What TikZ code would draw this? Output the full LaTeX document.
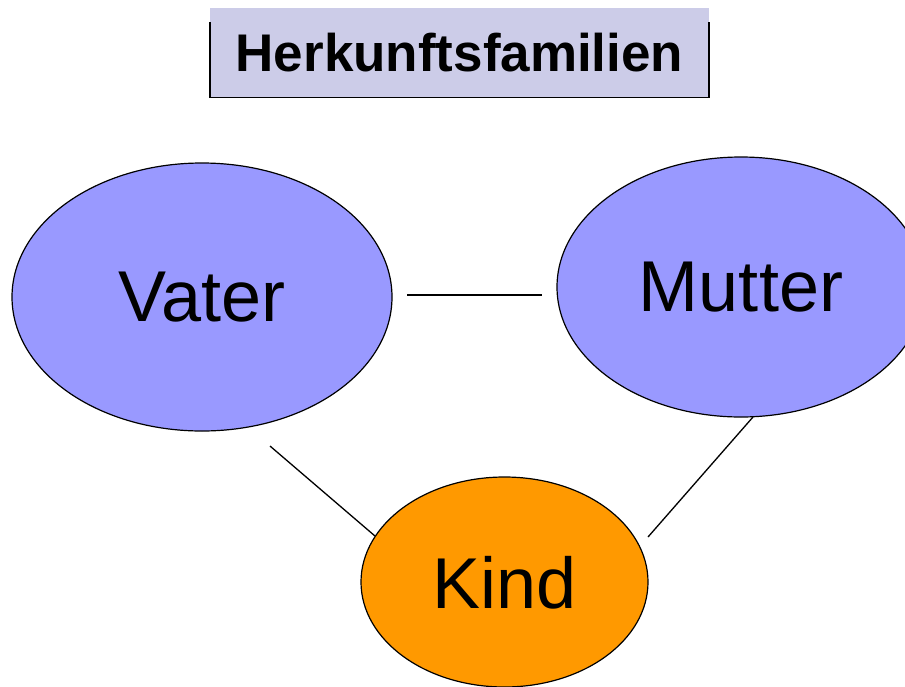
\documentclass[tikz,border=0pt]{standalone}
\usepackage{fontspec}
\setmainfont{Liberation Sans}
\usetikzlibrary{shapes.geometric}
\definecolor{titlefill}{HTML}{CCCCE8}
\definecolor{parentfill}{HTML}{9999FF}
\definecolor{childfill}{HTML}{FF9900}
\tikzset{
  person/.style={ellipse, draw=black, line width=1.2pt, inner sep=0pt,
    font=\fontsize{72}{80}\selectfont, text depth=0pt},
  link/.style={draw=black, line width=1.3pt}
}
\begin{document}
\begin{tikzpicture}[x=1pt,y=-1pt]
  \useasboundingbox (0,0) rectangle (905,686);
  \clip (0,0) rectangle (905,686);

  % title panel with its shadow edge
  \node[fill=titlefill, minimum width=499pt, minimum height=90pt, inner sep=0pt,
        anchor=north west] (title) at (210,8) {};
  \draw[line width=1.4pt] (210,22) -- (210,97.5) -- (709,97.5) -- (709,22);
  \node[font=\fontsize{53}{60}\selectfont\bfseries] (titletext) at (459.5,53) {Herkunftsfamilien};

  % family members
  \node[person, fill=parentfill, minimum width=380pt, minimum height=268pt] (vater) at (202,297) {Vater};
  \node[person, fill=parentfill, minimum width=368pt, minimum height=260pt] (mutter) at (741,287) {Mutter};
  \node[person, fill=childfill, minimum width=287pt, minimum height=210pt] (kind) at (504.5,582) {Kind};

  % connector end points
  \coordinate (vm) at (407,295);
  \coordinate (mv) at (542,295);
  \coordinate (vk) at (270,446);
  \coordinate (kv) at (375,536);
  \coordinate (mk) at (753,417);
  \coordinate (km) at (648,537);

  \draw[link] (vm) -- (mv);
  \draw[link] (vk) -- (kv);
  \draw[link] (mk) -- (km);
\end{tikzpicture}
\end{document}
